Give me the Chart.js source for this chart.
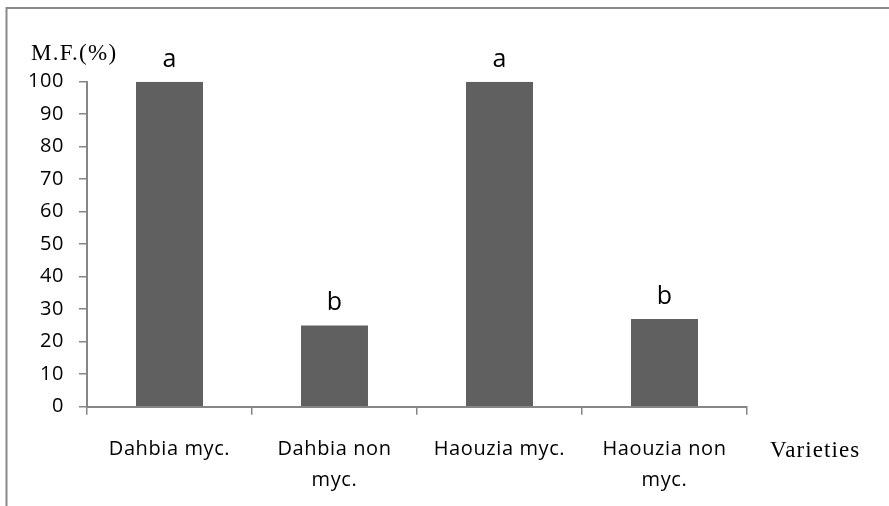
<!DOCTYPE html>
<html>
<head>
<meta charset="utf-8">
<script src="https://cdn.jsdelivr.net/npm/chart.js@4.4.1/dist/chart.umd.min.js"></script>
<style>
  html, body { margin: 0; padding: 0; background: #fff; }
  #wrap { position: relative; width: 889px; height: 506px; }
</style>
</head>
<body>
<div id="wrap"><canvas id="c" width="889" height="506"></canvas></div>
<script>
const categories = [["Dahbia myc."], ["Dahbia non", "myc."], ["Haouzia myc."], ["Haouzia non", "myc."]];
const values = [100, 25, 100, 27];
const letters = ["a", "b", "a", "b"];
const yAxisTitle = "M.F.(%)";
const xAxisTitle = "Varieties";
const yMin = 0, yMax = 100, yStep = 10;

const axisColor = "#868686";
const barColor = "#606060";
const sansFamily = "Open Sans";

const extras = {
  id: "extras",
  beforeDraw(chart) {
    const ctx = chart.ctx;
    ctx.save();
    ctx.fillStyle = "#fff";
    ctx.fillRect(0, 0, chart.width, chart.height);
    ctx.strokeStyle = "#8a8a8a";
    ctx.lineWidth = 2;
    ctx.beginPath();
    ctx.moveTo(6.5, 506);
    ctx.lineTo(6.5, 8);
    ctx.lineTo(889, 8);
    ctx.stroke();
    ctx.restore();
    ctx.letterSpacing = "0.6px";
  },
  afterDatasetsDraw(chart) {
    const ctx = chart.ctx;
    const meta = chart.getDatasetMeta(0);
    const ys = chart.scales.y;
    ctx.save();
    ctx.letterSpacing = "0px";
    ctx.fillStyle = "#000";
    ctx.font = "25px '" + sansFamily + "'";
    ctx.textAlign = "center";
    ctx.textBaseline = "alphabetic";
    meta.data.forEach((bar, i) => {
      const top = ys.getPixelForValue(values[i]);
      ctx.fillText(letters[i], bar.x, top - 15);
    });
    ctx.font = "23px 'Liberation Serif'";
    ctx.letterSpacing = "1.3px";
    ctx.textAlign = "left";
    ctx.fillText(yAxisTitle, 31, 60);
    ctx.letterSpacing = "1.1px";
    ctx.fillText(xAxisTitle, 770, 457);
    ctx.restore();
  }
};

new Chart(document.getElementById("c"), {
  type: "bar",
  data: {
    labels: categories,
    datasets: [{
      data: values,
      backgroundColor: barColor,
      borderWidth: 0,
      categoryPercentage: 1.0,
      barPercentage: 0.406
    }]
  },
  options: {
    responsive: false,
    animation: false,
    devicePixelRatio: 1,
    layout: { padding: { top: 81.7, right: 142, left: 0, bottom: 0 } },
    plugins: { legend: { display: false }, tooltip: { enabled: false }, title: { display: false } },
    scales: {
      x: {
        offset: true,
        grid: {
          offset: true,
          drawOnChartArea: false,
          drawTicks: true,
          tickLength: 8,
          color: axisColor,
          lineWidth: 1.5
        },
        border: { color: axisColor, width: 2 },
        ticks: {
          color: "#000",
          font: { family: sansFamily, size: 20, lineHeight: 1.55 },
          maxRotation: 0,
          autoSkip: false,
          padding: 19
        },
        afterFit(scale) { scale.height = 506 - 406.7; }
      },
      y: {
        min: yMin,
        max: yMax,
        grid: {
          drawOnChartArea: false,
          drawTicks: true,
          tickLength: 8,
          color: axisColor,
          lineWidth: 1.5
        },
        border: { color: axisColor, width: 2 },
        ticks: {
          stepSize: yStep,
          color: "#000",
          font: { family: sansFamily, size: 20 },
          padding: 15
        },
        afterFit(scale) { scale.width = 87; }
      }
    }
  },
  plugins: [extras]
});
</script>
</body>
</html>
